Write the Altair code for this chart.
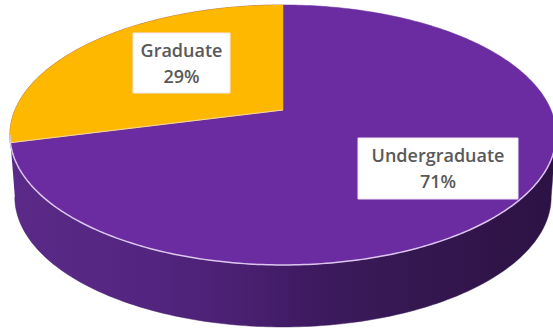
import numpy as np
import pandas as pd
import altair as alt

# Enrolment shares
levels = ["Undergraduate", "Graduate"]
shares = [71, 29]

W, H = 553, 329
FACE = "#6a2ca0"
GOLD = "#ffb800"
RIM = "#dcc6ee"
TEXT = "#595959"
FONT = "Open Sans"

# Tilted disc seen in perspective: centre, half axes, foreshortening, wall depth
X0, Y0, A, B, K = 283.0, 110.0, 268.0, 125.2, 0.192
DEPTH = 62.0
BASE_SHRINK = 0.982


def project(theta, dy=0.0, xscale=1.0):
    """Map a disc angle (counter-clockwise from 12 o'clock) to chart units."""
    u, v = -np.sin(theta), -np.cos(theta)
    d = 1 - K * v
    return X0 + xscale * A * u / d, Y0 + B * v / d + dy


def path(x, y):
    return pd.DataFrame({"x": x, "y": y, "i": np.arange(len(x))})


x_scale = alt.Scale(domain=[0, W], nice=False, zero=False)
y_scale = alt.Scale(domain=[0, H], nice=False, zero=False, reverse=True)
xs = alt.X("x:Q", scale=x_scale, axis=None)
ys = alt.Y("y:Q", scale=y_scale, axis=None)


def poly(df, **mark):
    return alt.Chart(df).mark_line(**mark).encode(x=xs, y=ys, order="i:Q")


sweep = shares[1] / sum(shares) * 2 * np.pi

# Whole face, and the arc of its front half that meets the wall
full = np.linspace(0, 2 * np.pi, 361)
fx, fy = project(full)
left, right = full[np.argmin(fx)], full[np.argmax(fx)]
front = np.linspace(left, right, 200)
rx, ry = project(front)
bx, by = project(front, DEPTH, BASE_SHRINK)

wall_fill = alt.Gradient(
    gradient="linear", x1=0, x2=1, y1=0, y2=0,
    stops=[
        alt.GradientStop(offset=0.0, color="#5b2a88"),
        alt.GradientStop(offset=0.25, color="#532580"),
        alt.GradientStop(offset=0.42, color="#4a2072"),
        alt.GradientStop(offset=0.55, color="#3e1a60"),
        alt.GradientStop(offset=0.75, color="#34174f"),
        alt.GradientStop(offset=1.0, color="#2c1244"),
    ],
)
wall = poly(path(np.r_[rx, bx[::-1]], np.r_[ry, by[::-1]]), fill=wall_fill, stroke="#3e1a60", strokeWidth=0.5)
face = poly(path(fx, fy), fill=FACE, stroke=FACE, strokeWidth=0.5)

# The smaller share as a wedge from the disc centre
arc = np.linspace(0, sweep, 150)
ax, ay = project(arc)
wedge = poly(path(np.r_[X0, ax, X0], np.r_[Y0, ay, Y0]), fill=GOLD, stroke=GOLD, strokeWidth=0.5)

rim = poly(path(rx, ry), stroke=RIM, strokeWidth=1.5)
seam = poly(path([X0, ax[-1]], [Y0, ay[-1]]), stroke="#f4d9a8", strokeWidth=1)

# Label boxes: name on the first line, share on the second
boxes = pd.DataFrame({
    "x": [358, 133], "x2": [518, 230],
    "y": [138, 33], "y2": [199, 93],
    "name": levels,
    "pct": [f"{s}%" for s in shares],
})
box = alt.Chart(boxes).mark_rect(fill="white", stroke="#efe6f6", strokeWidth=1).encode(
    x=xs, x2="x2:Q", y=ys, y2="y2:Q"
)
boxes["cx"] = (boxes["x"] + boxes["x2"]) / 2
boxes["ny"] = boxes["y"] + 19
boxes["py"] = boxes["y"] + 45
text_style = dict(font=FONT, fontSize=18, fontWeight=600, color=TEXT, align="center", baseline="middle")
name_text = alt.Chart(boxes).mark_text(**text_style).encode(
    x=alt.X("cx:Q", scale=x_scale, axis=None), y=alt.Y("ny:Q", scale=y_scale, axis=None), text="name:N"
)
pct_text = alt.Chart(boxes).mark_text(**text_style).encode(
    x=alt.X("cx:Q", scale=x_scale, axis=None), y=alt.Y("py:Q", scale=y_scale, axis=None), text="pct:N"
)

chart = (
    alt.layer(wall, face, wedge, rim, seam, box, name_text, pct_text)
    .properties(width=W, height=H, padding=0, background="white",
                autosize=alt.AutoSizeParams(type="none"))
    .configure_view(stroke=None)
)

chart.save("out.html", embed_options={"renderer": "svg", "actions": False})
